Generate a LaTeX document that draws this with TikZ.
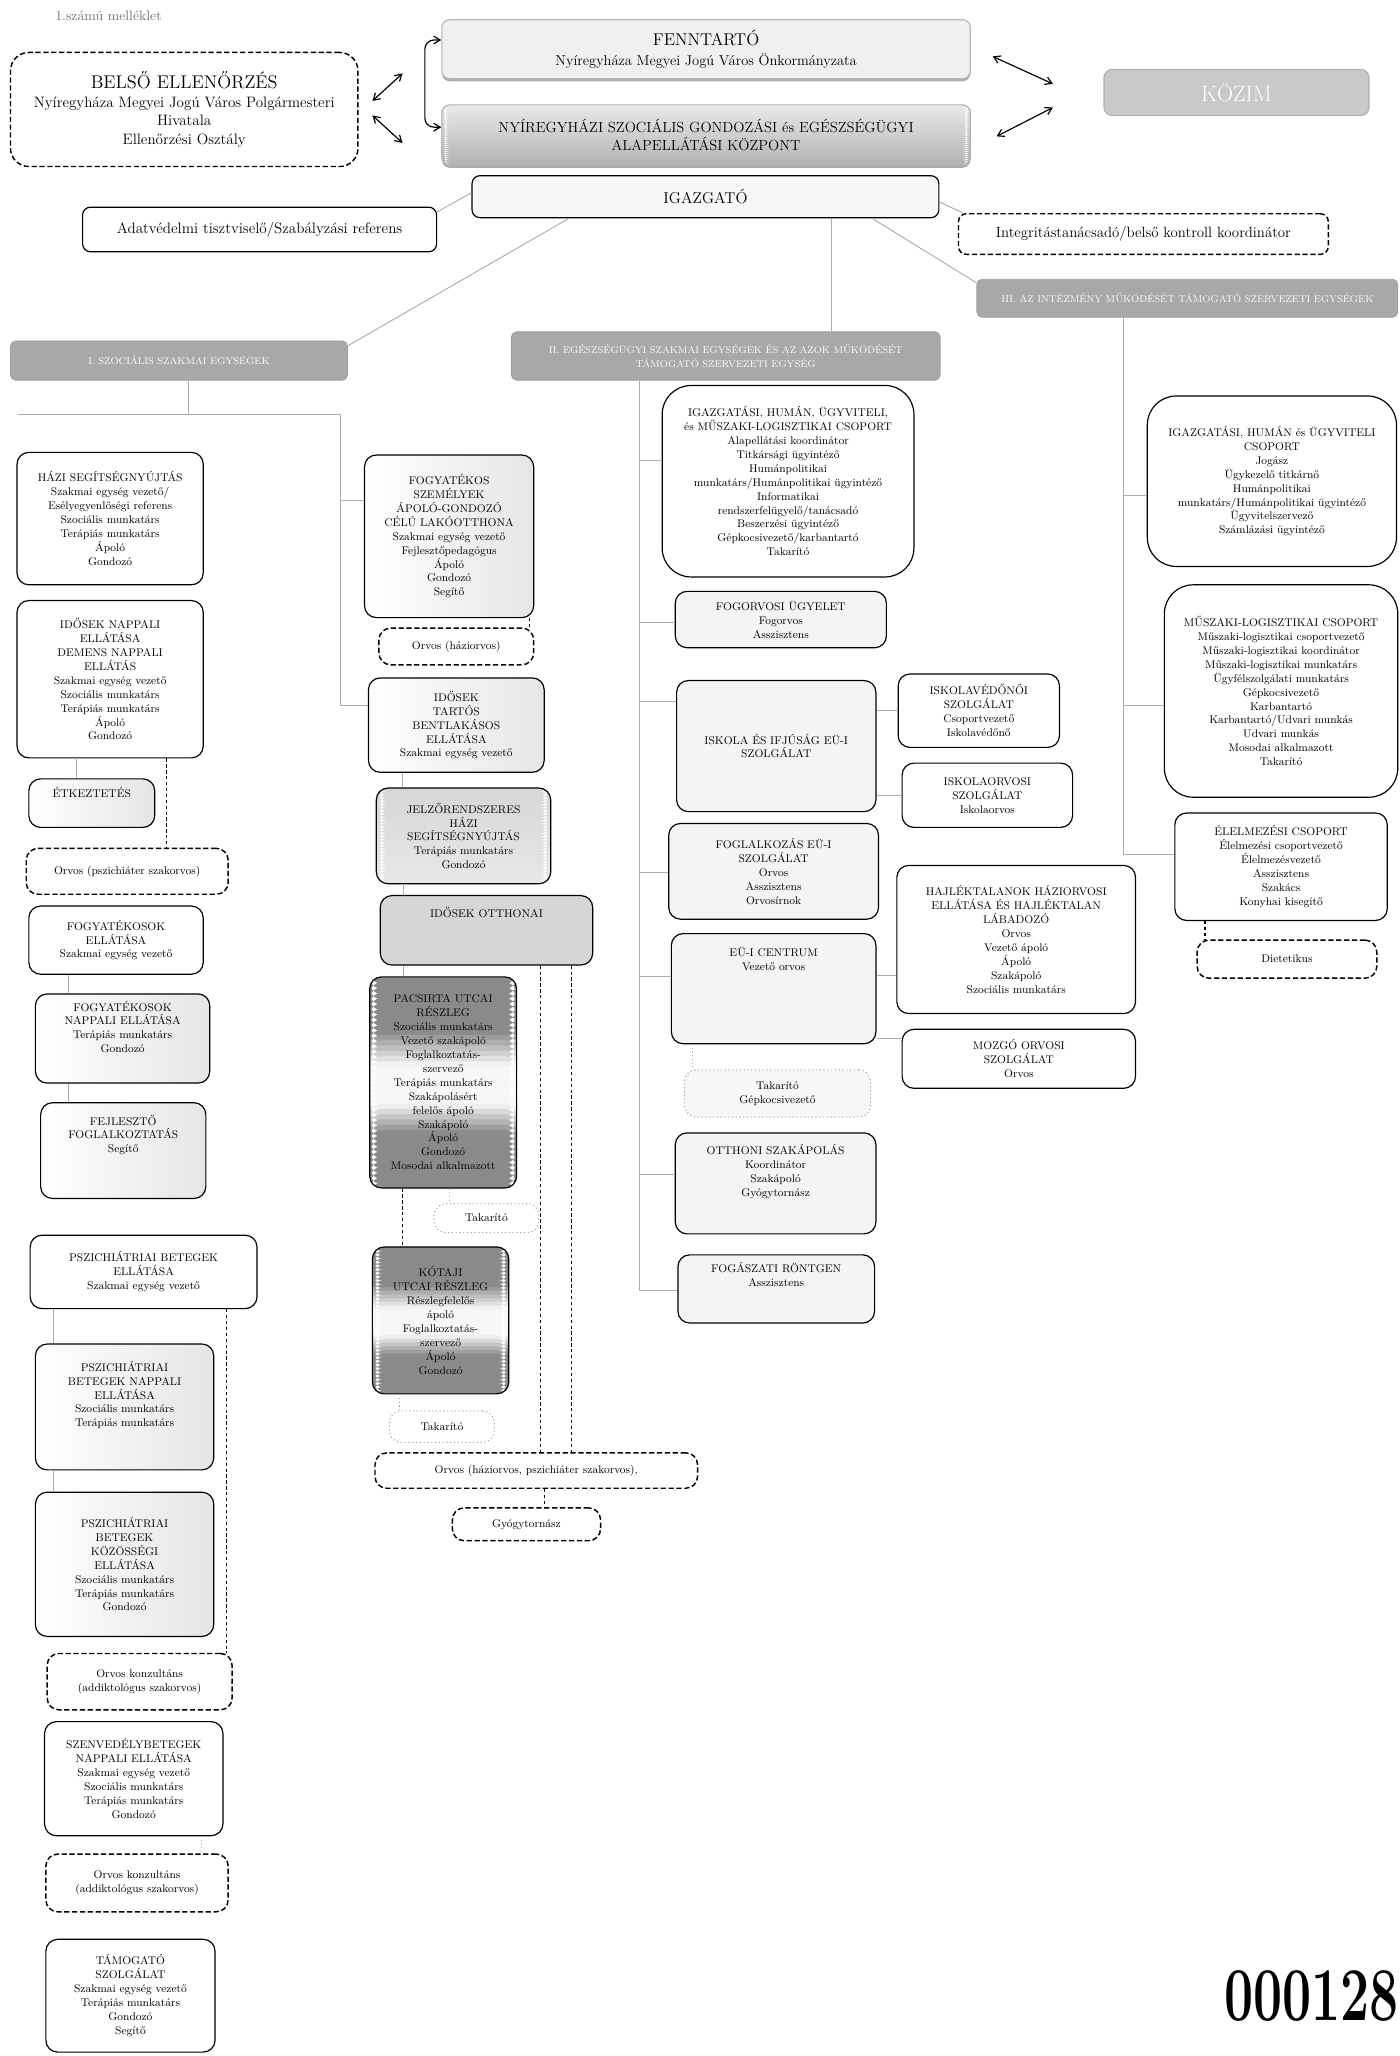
\documentclass[tikz,border=0pt]{standalone}
\usetikzlibrary{arrows.meta,shadows,calc}
\newcommand\bx[7]{\node[#2,minimum width={(#5)-(#3)},minimum height={(#6)-(#4)}] (#1) at ({((#3)+(#5))/2},{((#4)+(#6))/2}) {#7};}
\newcommand\pad[1]{\\[#1]\strut}
\newcommand\vcon[4]{\path ([xshift=#3]#2.south) coordinate (tmpa); \draw[#1] (tmpa) -- (tmpa |- #4.north);}
\newcommand\hbr[3]{\coordinate (tmpb) at (#1,#2); \draw[conn] (tmpb) -- (tmpb -| #3.west);}
\newcommand\rbr[3]{\path (#1.east) coordinate (tmpc); \coordinate (tmpd) at (0,#2); \draw[conn] (tmpc |- tmpd) -- (tmpd -| #3.west);}
\tikzset{
  vg/.style 2 args={path picture={
     \path (path picture bounding box.north west) coordinate (ppa)
           (path picture bounding box.south east) coordinate (ppb);
     \foreach \i in {0,...,29}{
       \pgfmathsetmacro\gk{#1+(#2-#1)*(\i+0.5)/30}
       \path ($(ppa)!{\i/30}!(ppb)$) coordinate (qa) ($(ppa)!{(\i+1.3)/30}!(ppb)$) coordinate (qb);
       \fill[black!\gk] (qa -| ppa) rectangle (qb -| ppb);
     }}},
  dkband/.style={path picture={
     \path (path picture bounding box.north west) coordinate (ppa)
           (path picture bounding box.south east) coordinate (ppb);
     \foreach \i in {0,...,39}{
       \pgfmathsetmacro\ff{(\i+0.5)/40}
       \pgfmathsetmacro\gk{\ff<0.26 ? 46 : (\ff<0.42 ? 46-43*(\ff-0.26)/0.16 : (\ff<0.60 ? 3 : (\ff<0.74 ? 3+43*(\ff-0.60)/0.14 : 46)))}
       \path ($(ppa)!{\i/40}!(ppb)$) coordinate (qa) ($(ppa)!{(\i+1.3)/40}!(ppb)$) coordinate (qb);
       \fill[black!\gk] (qa -| ppa) rectangle (qb -| ppb);
     }}},
}
\begin{document}
\begin{tikzpicture}[x=1pt,y=-1pt,
  every node/.style={inner sep=2pt},
  base/.style={align=center, font=\fontsize{8.5}{10.6}\selectfont, rounded corners=9pt, line width=0.9pt},
  bx/.style={base, draw},
  bigr/.style={base, draw, rounded corners=22pt},
  dbx/.style={base, draw, dashed, dash pattern=on 4pt off 2pt, line width=1.1pt},
  tbx/.style={base, draw=gray!70, dotted, line width=0.8pt},
  stip/.style={fill=gray!9},
  halfst/.style={left color=white, right color=gray!20},
  shd/.style={drop shadow={shadow xshift=0pt, shadow yshift=-2pt, fill=gray!65, opacity=1}},
  hdr/.style={base, draw=gray!75, rounded corners=4pt, fill=gray!68, text=white, line width=0.6pt},
  conn/.style={draw=gray!65, line width=0.7pt},
  dconn/.style={draw, dashed, dash pattern=on 2.5pt off 2pt, line width=0.9pt},
  tconn/.style={draw=gray!70, dotted, line width=0.8pt},
  dar/.style={<->, >={Straight Barb[length=5pt,width=6pt]}, line width=0.9pt},
]
\fill[white] (0,0) rectangle (1067,1568);
\useasboundingbox (0,0) rectangle (1067,1568);

% ---------- top ----------
\node[anchor=west, font=\fontsize{10.5}{11}\selectfont, text=black!55] (mel) at (40,12) {1.számú melléklet};
\bx{belso}{dbx, rounded corners=14pt, font=\fontsize{11.5}{14}\selectfont}{8}{40}{273}{127}{{\fontsize{14}{17}\selectfont BELSŐ ELLENŐRZÉS}\\Nyíregyháza Megyei Jogú Város Polgármesteri\\Hivatala\\Ellenőrzési Osztály}
\bx{fenn}{bx, shd, draw=gray!55, fill=gray!12, rounded corners=6pt, font=\fontsize{11}{15}\selectfont}{337}{15}{740}{60}{{\fontsize{13}{15}\selectfont FENNTARTÓ}\\Nyíregyháza Megyei Jogú Város Önkormányzata}
\bx{nyir}{bx, shd, draw=gray!60, fill=white, vg={8}{30}, rounded corners=6pt, font=\fontsize{11.2}{14}\selectfont}{337}{80}{740}{126}{NYÍREGYHÁZI SZOCIÁLIS GONDOZÁSI és EGÉSZSÉGÜGYI\\ALAPELLÁTÁSI KÖZPONT}
\bx{igaz}{bx, fill=gray!6, rounded corners=6pt, font=\fontsize{12}{14}\selectfont}{360}{134}{716}{166}{IGAZGATÓ}
\bx{kozim}{bx, draw=gray!60, fill=gray!42, text=white, rounded corners=6pt, font=\fontsize{17}{19}\selectfont}{842}{53}{1044}{88}{KÖZIM}
\bx{adat}{bx, rounded corners=6pt, font=\fontsize{11.5}{13}\selectfont}{63}{158}{333}{192}{Adatvédelmi tisztviselő/Szabályzási referens}
\bx{integ}{dbx, rounded corners=6pt, font=\fontsize{11.3}{13}\selectfont}{731}{163}{1013}{194}{Integritástanácsadó/belső kontroll koordinátor}

\coordinate (p1) at (284,77); \coordinate (p2) at (307,56);
\coordinate (p3) at (284,88); \coordinate (p4) at (307,109);
\draw[dar] (p1) -- (p2);
\draw[dar] (p3) -- (p4);
\draw[dar, rounded corners=7pt] ([yshift=7pt]fenn.west) -| (324,60) |- ([yshift=6pt]nyir.west);
\coordinate (k1) at (757,43); \coordinate (k2) at (803,64);
\coordinate (k3) at (760,104); \coordinate (k4) at (803,82);
\draw[dar] (k1) -- (k2);
\draw[dar] (k3) -- (k4);

% ---------- headers ----------
\bx{hdr1}{hdr, font=\fontsize{7.5}{9}\selectfont}{8}{260}{265}{290}{I. SZOCIÁLIS SZAKMAI EGYSÉGEK}
\bx{hdr2}{hdr, font=\fontsize{7.5}{10}\selectfont}{390}{253}{717}{290}{II. EGÉSZSÉGÜGYI SZAKMAI EGYSÉGEK ÉS AZ AZOK MŰKÖDÉSÉT\\TÁMOGATÓ SZERVEZETI EGYSÉG}
\bx{hdr3}{hdr, font=\fontsize{7.5}{9}\selectfont}{745}{213}{1066}{242}{III. AZ INTÉZMÉNY MŰKÖDÉSÉT TÁMOGATÓ SZERVEZETI EGYSÉGEK}

\draw[conn] ([yshift=3pt]igaz.west) -- ([yshift=-4pt]adat.north east);
\draw[conn] ([yshift=-4pt]igaz.east) -- ([xshift=4pt]integ.north west);
\draw[conn] ([xshift=-104pt]igaz.south) -- ([yshift=-4pt]hdr1.north east);
\draw[conn] ([xshift=96pt]igaz.south) -- ([xshift=80.5pt]hdr2.north);
\draw[conn] ([xshift=127pt]igaz.south) -- ([yshift=-3pt]hdr3.north west);

% ---------- section I, left column ----------
\bx{hazi}{bx}{13}{345}{155}{446}{HÁZI SEGÍTSÉGNYÚJTÁS\\Szakmai egység vezető/\\Esélyegyenlőségi referens\\Szociális munkatárs\\Terápiás munkatárs\\Ápoló\\Gondozó}
\bx{idn}{bx}{13}{458}{155}{578}{IDŐSEK NAPPALI\\ELLÁTÁSA\\DEMENS NAPPALI\\ELLÁTÁS\\Szakmai egység vezető\\Szociális munkatárs\\Terápiás munkatárs\\Ápoló\\Gondozó}
\bx{etk}{bx, halfst}{22}{594}{118}{631}{ÉTKEZTETÉS\pad{2pt}}
\bx{orv1}{dbx}{20}{647}{174}{682}{Orvos (pszichiáter szakorvos)}
\bx{fe}{bx}{22}{691}{155}{743}{FOGYATÉKOSOK\\ELLÁTÁSA\\Szakmai egység vezető}
\bx{fn}{bx, halfst}{27}{758}{160}{826}{FOGYATÉKOSOK\\NAPPALI ELLÁTÁSA\\Terápiás munkatárs\\Gondozó\pad{4pt}}
\bx{fj}{bx, halfst}{31}{841}{157}{914}{FEJLESZTŐ\\FOGLALKOZTATÁS\\Segítő\pad{12pt}}
\bx{pb}{bx}{23}{942}{196}{998}{PSZICHIÁTRIAI BETEGEK\\ELLÁTÁSA\\Szakmai egység vezető}
\bx{pn}{bx, halfst}{27}{1025}{163}{1121}{PSZICHIÁTRIAI\\BETEGEK NAPPALI\\ELLÁTÁSA\\Szociális munkatárs\\Terápiás munkatárs\pad{6pt}}
\bx{pk}{bx, halfst}{27}{1138}{163}{1248}{PSZICHIÁTRIAI\\BETEGEK\\KÖZÖSSÉGI\\ELLÁTÁSA\\Szociális munkatárs\\Terápiás munkatárs\\Gondozó}
\bx{ok1}{dbx}{36}{1261}{177}{1304}{Orvos konzultáns\\(addiktológus szakorvos)}
\bx{szb}{bx}{34}{1313}{170}{1400}{SZENVEDÉLYBETEGEK\\NAPPALI ELLÁTÁSA\\Szakmai egység vezető\\Szociális munkatárs\\Terápiás munkatárs\\Gondozó}
\bx{ok2}{dbx}{35}{1414}{174}{1458}{Orvos konzultáns\\(addiktológus szakorvos)}
\bx{tam}{bx}{35}{1479}{164}{1565}{TÁMOGATÓ\\SZOLGÁLAT\\Szakmai egység vezető\\Terápiás munkatárs\\Gondozó\\Segítő}

% ---------- section I, right column ----------
\bx{lak}{bx, halfst}{278}{347}{407}{471}{FOGYATÉKOS\\SZEMÉLYEK\\ÁPOLÓ-GONDOZÓ\\CÉLÚ LAKÓOTTHONA\\Szakmai egység vezető\\Fejlesztőpedagógus\\Ápoló\\Gondozó\\Segítő}
\bx{orvh}{dbx}{289}{479}{407}{507}{Orvos (háziorvos)}
\bx{tart}{bx, halfst}{281}{517}{415}{589}{IDŐSEK\\TARTÓS\\BENTLAKÁSOS\\ELLÁTÁSA\\Szakmai egység vezető}
\bx{jelz}{bx, fill=white, vg={16}{9}}{287}{601}{420}{674}{JELZŐRENDSZERES\\HÁZI\\SEGÍTSÉGNYÚJTÁS\\Terápiás munkatárs\\Gondozó}
\bx{idot}{bx, fill=gray!32}{290}{683}{452}{736}{IDŐSEK OTTHONAI\pad{14pt}}
\bx{pac}{bx, fill=white, dkband}{282}{745}{394}{906}{PACSIRTA UTCAI\\RÉSZLEG\\Szociális munkatárs\\Vezető szakápoló\\Foglalkoztatás-\\szervező\\Terápiás munkatárs\\Szakápolásért\\felelős ápoló\\Szakápoló\\Ápoló\\Gondozó\\Mosodai alkalmazott}
\bx{tak1}{tbx}{331}{918}{411}{940}{Takarító}
\bx{kot}{bx, fill=white, dkband}{284}{951}{388}{1063}{KÓTAJI\\UTCAI RÉSZLEG\\Részlegfelelős\\ápoló\\Foglalkoztatás-\\szervező\\Ápoló\\Gondozó}
\bx{tak2}{tbx}{297}{1076}{377}{1100}{Takarító}
\bx{orv2}{dbx}{286}{1108}{532}{1135}{Orvos (háziorvos, pszichiáter szakorvos),}
\bx{gyog}{dbx}{345}{1150}{458}{1175}{Gyógytornász}

% section I connectors
\coordinate (s1a) at (144,316); \coordinate (s1l) at (14,316); \coordinate (s1r) at (260,316);
\coordinate (s1b) at (260,538); \coordinate (s1c) at (260,382);
\draw[conn] (hdr1.south -| s1a) -- (s1a);
\draw[conn] (s1l) -- (s1r) -- (s1b) -- (s1b -| tart.west);
\draw[conn] (s1c) -- (s1c -| lak.west);
\vcon{conn}{idn}{-26pt}{etk}
\vcon{dconn}{idn}{43pt}{orv1}
\vcon{conn}{fe}{-36pt}{fn}
\vcon{conn}{fn}{-41.5pt}{fj}
\vcon{conn}{pb}{-68.5pt}{pn}
\vcon{conn}{pn}{-54pt}{pk}
\vcon{dconn}{pb}{63.5pt}{ok1}
\vcon{tconn}{szb}{52pt}{ok2}
\vcon{dconn}{lak}{61.5pt}{orvh}
\vcon{conn}{tart}{-41pt}{jelz}
\vcon{conn}{jelz}{-46pt}{idot}
\vcon{conn}{idot}{-63pt}{pac}
\vcon{dconn}{idot}{41pt}{orv2}
\vcon{dconn}{idot}{65pt}{orv2}
\vcon{dconn}{pac}{-31pt}{kot}
\vcon{tconn}{pac}{5pt}{tak1}
\vcon{tconn}{kot}{-31pt}{tak2}
\vcon{dconn}{orv2}{6pt}{gyog}

% ---------- section II ----------
\bx{A}{bigr}{505}{294}{697}{440}{IGAZGATÁSI, HUMÁN, ÜGYVITELI,\\és MŰSZAKI-LOGISZTIKAI CSOPORT\\Alapellátási koordinátor\\Titkársági ügyintéző\\Humánpolitikai\\munkatárs/Humánpolitikai ügyintéző\\Informatikai\\rendszerfelügyelő/tanácsadó\\Beszerzési ügyintéző\\Gépkocsivezető/karbantartó\\Takarító}
\bx{B}{bx, stip}{515}{451}{676}{494}{FOGORVOSI ÜGYELET\\Fogorvos\\Asszisztens}
\bx{C}{bx, stip}{516}{519}{668}{619}{ISKOLA ÉS IFJÚSÁG EÜ-I\\SZOLGÁLAT}
\bx{D}{bx}{685}{514}{808}{570}{ISKOLAVÉDŐNŐI\\SZOLGÁLAT\\Csoportvezető\\Iskolavédőnő}
\bx{E}{bx}{688}{582}{818}{631}{ISKOLAORVOSI\\SZOLGÁLAT\\Iskolaorvos}
\bx{F}{bx, stip}{510}{628}{670}{701}{FOGLALKOZÁS EÜ-I\\SZOLGÁLAT\\Orvos\\Asszisztens\\Orvosírnok}
\bx{G}{bx, stip}{512}{712}{668}{796}{EÜ-I CENTRUM\\Vezető orvos\pad{32pt}}
\bx{H}{bx}{684}{660}{866}{773}{HAJLÉKTALANOK HÁZIORVOSI\\ELLÁTÁSA ÉS HAJLÉKTALAN\\LÁBADOZÓ\\Orvos\\Vezető ápoló\\Ápoló\\Szakápoló\\Szociális munkatárs}
\bx{I}{bx}{688}{785}{866}{830}{MOZGÓ ORVOSI\\SZOLGÁLAT\\Orvos}
\bx{J}{tbx, fill=gray!6}{522}{816}{664}{852}{Takarító\\Gépkocsivezető}
\bx{K}{bx, stip}{515}{864}{668}{941}{OTTHONI SZAKÁPOLÁS\\Koordinátor\\Szakápoló\\Gyógytornász\pad{6pt}}
\bx{L}{bx, stip}{517}{957}{667}{1009}{FOGÁSZATI RÖNTGEN\\Asszisztens\pad{8pt}}

\coordinate (t2) at (488,290); \coordinate (t2z) at (488,984);
\draw[conn] (hdr2.south -| t2) -- (t2z) -- (t2z -| L.west);
\hbr{488}{351}{A}
\hbr{488}{475}{B}
\hbr{488}{535}{C}
\hbr{488}{665}{F}
\hbr{488}{745}{G}
\hbr{488}{896}{K}
\draw[conn] (C.east |- D.west) -- (D.west);
\draw[conn] (C.east |- E.west) -- (E.west);
\rbr{G}{744}{H}
\rbr{G}{792}{I}
\vcon{tconn}{G}{-62pt}{J}

% ---------- section III ----------
\bx{M}{bigr}{875}{302}{1065}{432}{IGAZGATÁSI, HUMÁN és ÜGYVITELI\\CSOPORT\\Jogász\\Ügykezelő titkárnő\\Humánpolitikai\\munkatárs/Humánpolitikai ügyintéző\\Ügyvitelszervező\\Számlázási ügyintéző}
\bx{N}{bigr}{888}{446}{1066}{608}{MŰSZAKI-LOGISZTIKAI CSOPORT\\Műszaki-logisztikai csoportvezető\\Műszaki-logisztikai koordinátor\\Műszaki-logisztikai munkatárs\\Ügyfélszolgálati munkatárs\\Gépkocsivezető\\Karbantartó\\Karbantartó/Udvari munkás\\Udvari munkás\\Mosodai alkalmazott\\Takarító}
\bx{O}{bx}{896}{620}{1058}{702}{ÉLELMEZÉSI CSOPORT\\Élelmezési csoportvezető\\Élelmezésvezető\\Asszisztens\\Szakács\\Konyhai kisegítő}
\bx{P}{dbx}{913}{717}{1050}{746}{Dietetikus}

\coordinate (t3) at (857,242); \coordinate (t3z) at (857,652);
\draw[conn] (hdr3.south -| t3) -- (t3z) -- (t3z -| O.west);
\hbr{857}{378}{M}
\hbr{857}{538}{N}
\vcon{dconn}{O}{-58pt}{P}

% ---------- stamp ----------
\node[anchor=east, font=\fontsize{58}{58}\selectfont\bfseries, xscale=0.68, inner sep=0pt] (stamp) at (1067,1522) {000128};
\end{tikzpicture}
\end{document}
